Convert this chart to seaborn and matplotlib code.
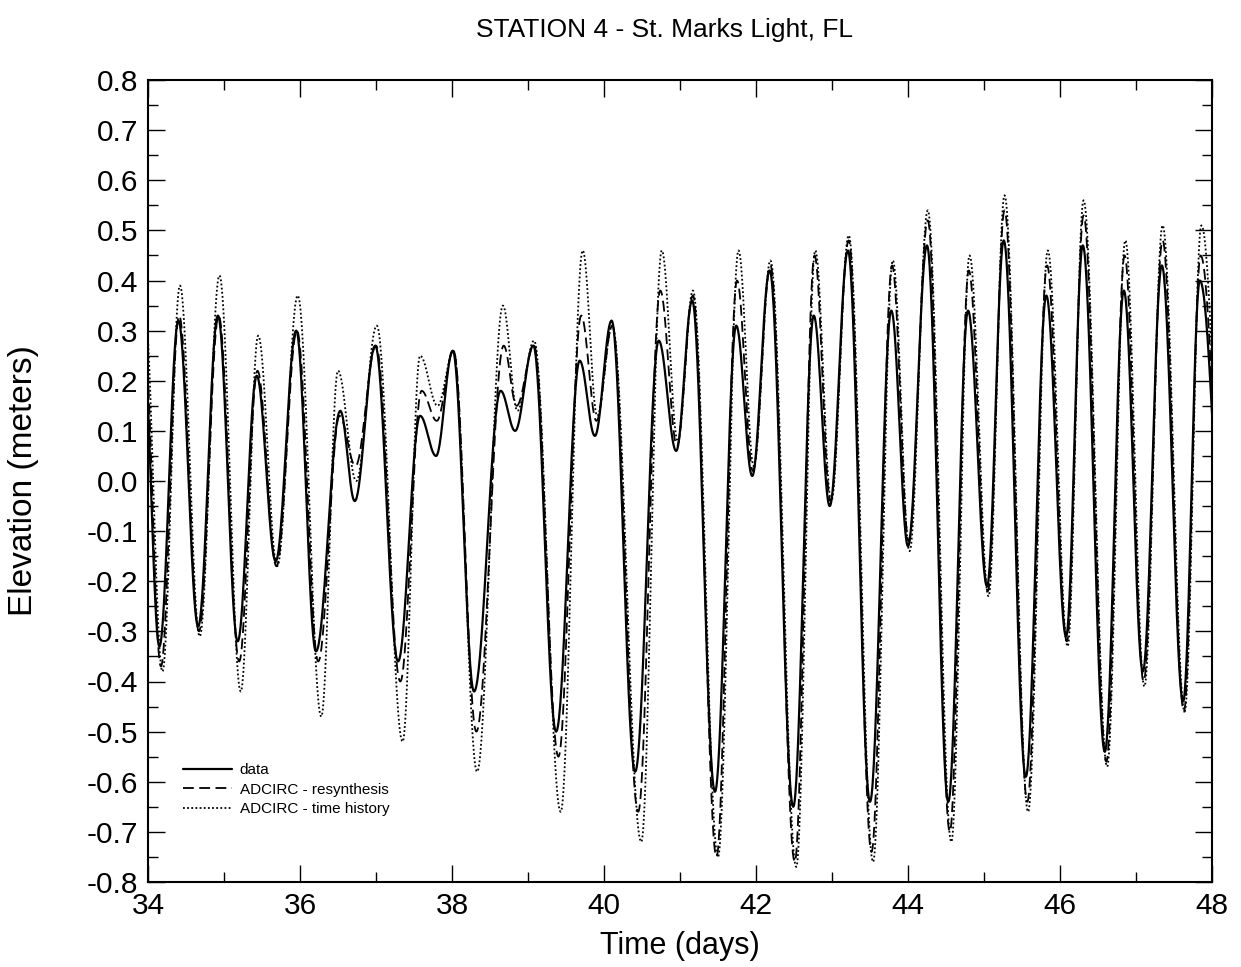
import numpy as np
import pandas as pd
import matplotlib
matplotlib.use("Agg")
import matplotlib.pyplot as plt
import seaborn as sns
from matplotlib.ticker import MultipleLocator, FormatStrFormatter
from matplotlib.lines import Line2D

# ---- data: tidal extrema (time in days, elevation in metres) ----
t_data = [33.93, 34.15, 34.40, 34.66, 34.92, 35.18, 35.43, 35.68, 35.95, 36.21, 36.53, 36.72,
          36.99, 37.29, 37.58, 37.79, 38.01, 38.29, 38.64, 38.83, 39.07, 39.37, 39.68, 39.88,
          40.10, 40.41, 40.72, 40.95, 41.16, 41.46, 41.74, 41.95, 42.18, 42.49, 42.76, 42.97,
          43.21, 43.50, 43.78, 44.00, 44.25, 44.53, 44.79, 45.04, 45.26, 45.55, 45.82, 46.08,
          46.30, 46.59, 46.84, 47.09, 47.34, 47.62, 47.84, 48.25]
v_data = [0.30, -0.33, 0.32, -0.29, 0.33, -0.32, 0.21, -0.16, 0.30, -0.34, 0.14, -0.04,
          0.27, -0.36, 0.13, 0.05, 0.26, -0.42, 0.18, 0.10, 0.27, -0.50, 0.24, 0.09,
          0.32, -0.58, 0.28, 0.06, 0.36, -0.62, 0.31, 0.01, 0.42, -0.65, 0.33, -0.05,
          0.46, -0.64, 0.34, -0.13, 0.47, -0.64, 0.34, -0.21, 0.48, -0.59, 0.37, -0.31,
          0.47, -0.54, 0.38, -0.38, 0.43, -0.44, 0.40, -0.40]

t_resyn = [33.94, 34.17, 34.41, 34.67, 34.93, 35.20, 35.44, 35.69, 35.96, 36.24, 36.52, 36.73,
           37.00, 37.32, 37.60, 37.80, 38.02, 38.32, 38.68, 38.85, 39.08, 39.40, 39.70, 39.90,
           40.11, 40.45, 40.74, 40.96, 41.17, 41.48, 41.75, 41.96, 42.19, 42.51, 42.77, 42.98,
           43.22, 43.52, 43.79, 44.01, 44.26, 44.55, 44.80, 45.05, 45.27, 45.57, 45.83, 46.09,
           46.31, 46.61, 46.85, 47.10, 47.35, 47.63, 47.85, 48.25]
v_resyn = [0.32, -0.37, 0.33, -0.30, 0.33, -0.36, 0.22, -0.17, 0.30, -0.36, 0.13, 0.03,
           0.27, -0.40, 0.18, 0.12, 0.26, -0.50, 0.27, 0.15, 0.27, -0.55, 0.33, 0.12,
           0.31, -0.66, 0.38, 0.07, 0.37, -0.75, 0.40, 0.02, 0.43, -0.76, 0.45, -0.04,
           0.48, -0.74, 0.43, -0.12, 0.52, -0.70, 0.42, -0.22, 0.54, -0.64, 0.43, -0.32,
           0.53, -0.56, 0.45, -0.40, 0.48, -0.46, 0.45, -0.42]

t_hist = [33.95, 34.19, 34.42, 34.68, 34.94, 35.22, 35.45, 35.70, 35.97, 36.28, 36.50, 36.74,
          37.01, 37.35, 37.58, 37.81, 38.02, 38.33, 38.67, 38.86, 39.08, 39.43, 39.72, 39.91,
          40.11, 40.49, 40.76, 40.97, 41.17, 41.50, 41.77, 41.97, 42.19, 42.53, 42.78, 42.99,
          43.22, 43.54, 43.80, 44.02, 44.26, 44.57, 44.81, 45.06, 45.27, 45.58, 45.84, 46.10,
          46.31, 46.62, 46.86, 47.11, 47.35, 47.64, 47.86, 48.25]
v_hist = [0.36, -0.38, 0.39, -0.31, 0.41, -0.42, 0.29, -0.17, 0.37, -0.47, 0.22, 0.00,
          0.31, -0.52, 0.25, 0.15, 0.26, -0.58, 0.35, 0.14, 0.28, -0.66, 0.46, 0.13,
          0.31, -0.72, 0.46, 0.08, 0.38, -0.75, 0.46, 0.03, 0.44, -0.77, 0.46, -0.04,
          0.49, -0.76, 0.44, -0.14, 0.54, -0.72, 0.45, -0.23, 0.57, -0.66, 0.46, -0.33,
          0.56, -0.57, 0.48, -0.41, 0.51, -0.46, 0.51, -0.42]

labels = ["data", "ADCIRC - resynthesis", "ADCIRC - time history"]


def tidal_curve(ts, vs, n=40):
    """Smooth half-cosine turns between successive high/low waters."""
    xs, ys = [], []
    for i in range(len(ts) - 1):
        s = np.linspace(0.0, 1.0, n, endpoint=False)
        xs.append(ts[i] + (ts[i + 1] - ts[i]) * s)
        ys.append(vs[i] + (vs[i + 1] - vs[i]) * (1 - np.cos(np.pi * s)) / 2)
    xs.append([ts[-1]])
    ys.append([vs[-1]])
    return np.concatenate(xs), np.concatenate(ys)


frames = []
for name, ts, vs in zip(labels, [t_data, t_resyn, t_hist], [v_data, v_resyn, v_hist]):
    x, y = tidal_curve(ts, vs)
    frames.append(pd.DataFrame({"Time": x, "Elevation": y, "series": name}))
df = pd.concat(frames, ignore_index=True)

sns.set_style("ticks")
plt.rcParams["font.family"] = ["Liberation Sans", "DejaVu Sans"]
plt.rcParams["text.color"] = "black"
plt.rcParams["axes.labelcolor"] = "black"

fig = plt.figure(figsize=(12.41, 9.67), dpi=100)
ax = fig.add_axes([148 / 1241, 85 / 967, 1064 / 1241, 802 / 967])

styles = {
    labels[0]: dict(lw=1.6, ls="-"),
    labels[1]: dict(lw=1.3, ls=(0, (6, 3))),
    labels[2]: dict(lw=1.3, ls=(0, (1, 1.3))),
}
for name in [labels[2], labels[1], labels[0]]:
    sub = df[df["series"] == name]
    sns.lineplot(data=sub, x="Time", y="Elevation", ax=ax, color="black",
                 linewidth=styles[name]["lw"], linestyle=styles[name]["ls"],
                 sort=False, estimator=None, legend=False)

ax.set_xlim(34, 48)
ax.set_ylim(-0.8, 0.8)
ax.xaxis.set_major_locator(MultipleLocator(2))
ax.xaxis.set_minor_locator(MultipleLocator(1))
ax.yaxis.set_major_locator(MultipleLocator(0.1))
ax.yaxis.set_minor_locator(MultipleLocator(0.05))
ax.yaxis.set_major_formatter(FormatStrFormatter("%.1f"))
ax.tick_params(which="both", direction="in", top=True, right=True, colors="black",
               labelcolor="black")
ax.tick_params(which="major", length=12, width=1.0, labelsize=21.5, pad=7)
ax.tick_params(which="minor", length=7, width=1.0)
for sp in ax.spines.values():
    sp.set_linewidth(1.5)
    sp.set_color("black")

ax.set_xlabel("Time (days)", fontsize=22, labelpad=8, color="black")
ax.set_ylabel("Elevation (meters)", fontsize=24, color="black")
ax.yaxis.set_label_coords(-0.102, 0.5)
fig.text(665 / 1241, 1 - 30 / 967, "STATION 4 - St. Marks Light, FL",
         ha="center", va="center", fontsize=19, color="black")

handles = [Line2D([], [], color="black", lw=styles[n]["lw"], ls=styles[n]["ls"]) for n in labels]
ax.legend(handles, labels, loc="upper left", bbox_to_anchor=(0.02, 0.165), frameon=False,
          fontsize=11, handlelength=3.2, handletextpad=0.5, labelspacing=0.35)

fig.savefig("out.png", dpi=100)
